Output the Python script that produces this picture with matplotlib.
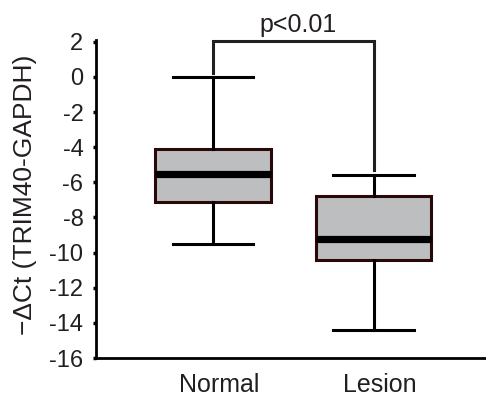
import matplotlib
matplotlib.use("Agg")
import matplotlib.pyplot as plt
from matplotlib.transforms import ScaledTranslation

plt.rcParams['font.family'] = ['Liberation Sans', 'DejaVu Sans']

categories = ["Normal", "Lesion"]
whisker_low = [-9.5, -14.4]
q1 = [-7.1, -10.4]
median = [-5.5, -9.2]
q3 = [-4.1, -6.8]
whisker_high = [0.0, -5.6]
yticks = [2, 0, -2, -4, -6, -8, -10, -12, -14, -16]
p_text = "p<0.01"

stats = []
for i, c in enumerate(categories):
    stats.append(dict(label=c, whislo=whisker_low[i], q1=q1[i], med=median[i],
                      q3=q3[i], whishi=whisker_high[i], fliers=[]))

fig = plt.figure(figsize=(4.86, 3.98), dpi=100)
ax = fig.add_axes([0.1975, 0.1005, 0.8025, 0.799])

bp = ax.bxp(stats, positions=[1, 2], widths=0.72, patch_artist=True,
            showfliers=False,
            boxprops=dict(facecolor='#bcbec0', edgecolor='#2a0808', linewidth=2.2),
            medianprops=dict(color='black', linewidth=5.2, solid_capstyle='butt'),
            whiskerprops=dict(color='black', linewidth=2.2),
            capprops=dict(color='black', linewidth=2.2),
            capwidths=0.5)

ax.set_xlim(0.273, 2.70)
ax.set_ylim(-16, 2.1)
ax.set_yticks(yticks)
ax.set_yticklabels([str(t) for t in yticks])
ax.set_xticks([1, 2])
ax.set_xticklabels(categories)
ax.tick_params(axis='y', length=2, width=2.5, direction='out', labelsize=17, pad=7,
               labelcolor='#231f20')
ax.tick_params(axis='x', length=0, labelsize=18, pad=11, labelcolor='#231f20')
offset = ScaledTranslation(0.065, 0, fig.dpi_scale_trans)
for lbl in ax.get_xticklabels():
    lbl.set_transform(lbl.get_transform() + offset)
for s in ['top', 'right']:
    ax.spines[s].set_visible(False)
ax.spines['left'].set_linewidth(2)
ax.spines['bottom'].set_linewidth(2)

ax.set_ylabel("\u2212\u0394Ct (TRIM40-GAPDH)", fontsize=19, color='#231f20')
ax.yaxis.set_label_coords(-0.152, 0.514)

# significance bracket
top = 2.05
ax.plot([1, 1, 2, 2], [0.25, top, top, -5.3], color='#231f20', linewidth=2.2,
        clip_on=False, solid_joinstyle='miter')
ax.text(1.53, top + 0.2, p_text, ha='center', va='bottom', fontsize=18, color='#231f20')

fig.savefig("out.png", dpi=100)
